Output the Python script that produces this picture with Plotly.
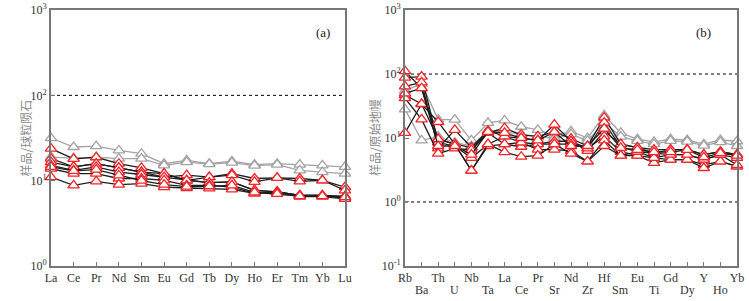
import plotly.graph_objects as go
from plotly.subplots import make_subplots

# ---------- Panel (a): chondrite-normalised REE ----------
ree = ["La", "Ce", "Pr", "Nd", "Sm", "Eu", "Gd", "Tb", "Dy", "Ho", "Er", "Tm", "Yb", "Lu"]

ree_grey = [
    [31.5, 24.8, 25.4, 22.6, 20.7, 15.8, 17.3, 15.8, 16.9, 15.4, 15.8, 15.4, 15.1, 14.5],
    [18.9, 18.4, 18.9, 18.1, 18.1, 15.1, 16.5, 15.6, 16.3, 15.0, 15.4, 13.2, 12.6, 12.1],
]
ree_black = [
    [23.7, 18.0, 18.8, 15.8, 14.1, 12.1, 10.1, 9.5, 9.7, 7.7, 7.4, 6.7, 6.7, 6.3],
    [18.1, 14.5, 15.8, 14.1, 12.6, 11.0, 11.6, 11.0, 12.1, 10.6, 10.8, 10.6, 10.1, 8.4],
    [16.5, 14.5, 15.8, 14.1, 12.6, 12.1, 10.1, 11.0, 11.6, 9.7, 10.8, 9.8, 10.1, 7.7],
    [15.1, 13.2, 14.5, 12.6, 11.8, 11.0, 10.1, 9.5, 9.7, 7.7, 7.4, 6.7, 6.7, 6.6],
    [13.8, 12.1, 12.1, 10.6, 10.6, 10.1, 8.8, 8.8, 8.4, 7.1, 7.4, 6.7, 6.7, 6.3],
    [11.0, 8.8, 9.8, 9.0, 9.25, 8.4, 8.2, 8.1, 7.9, 7.1, 7.2, 6.5, 6.5, 6.1],
    [14.5, 13.0, 13.5, 11.5, 10.0, 9.0, 8.5, 8.6, 8.8, 7.3, 7.0, 6.6, 6.6, 6.4],
]

# ---------- Panel (b): primitive-mantle-normalised spider ----------
spider = ["Rb", "Ba", "Th", "U", "Nb", "Ta", "La", "Ce", "Pr", "Sr", "Nd",
          "Zr", "Hf", "Sm", "Eu", "Ti", "Gd", "Dy", "Y", "Ho", "Yb"]

spider_grey = [
    [55, 70, 19.4, 19.4, 9.2, 17.2, 18.8, 15.0, 13.4, 11.0, 12.7, 10.0, 22.6, 12.0, 9.6, 8.7, 9.6, 9.3, 8.0, 9.3, 8.9],
    [28, 9.2, 10.5, 8.5, 7.5, 13.0, 12.5, 11.5, 10.5, 10.0, 11.5, 9.0, 17.5, 10.5, 9.0, 8.0, 9.0, 8.8, 7.6, 8.6, 7.5],
]
spider_black = [
    [111, 60, 9.6, 8.0, 7.1, 12.0, 14.3, 11.2, 10.6, 12.4, 9.8, 7.5, 20.9, 8.0, 7.1, 6.6, 6.6, 6.6, 5.5, 6.1, 5.5],
    [88, 91, 8.5, 7.5, 4.9, 8.0, 10.6, 10.0, 9.2, 16.2, 8.9, 6.9, 17.4, 7.3, 6.1, 5.8, 5.5, 5.5, 4.6, 5.5, 4.9],
    [64, 74, 6.9, 13.4, 7.1, 13.0, 10.6, 8.5, 8.0, 8.9, 8.9, 6.3, 12.7, 8.0, 7.1, 5.8, 6.6, 6.6, 5.5, 6.1, 5.5],
    [47, 34, 9.6, 8.0, 3.1, 7.5, 8.0, 7.3, 8.0, 8.0, 8.0, 6.9, 10.6, 6.1, 5.3, 4.9, 4.6, 4.6, 3.8, 4.3, 3.6],
    [42, 19.5, 5.7, 6.9, 6.5, 12.0, 8.0, 8.5, 6.6, 6.6, 6.3, 4.3, 9.2, 5.3, 5.3, 4.1, 4.6, 4.6, 3.4, 4.3, 3.6],
    [12, 34, 17.8, 8.0, 3.1, 8.0, 6.0, 5.1, 5.3, 8.0, 5.7, 4.3, 7.5, 5.3, 6.1, 4.9, 5.5, 5.5, 4.6, 5.5, 3.8],
    [50, 60, 7.5, 7.5, 5.5, 12.5, 12.0, 10.0, 9.2, 12.4, 7.5, 7.5, 14.0, 7.0, 6.5, 6.0, 6.0, 6.5, 5.0, 5.8, 5.3],
]

ytitle_a = "样品/球粒陨石"
ytitle_b = "样品/原始地幔"

RED = "#f0262b"
GREY = "#a3a3a3"
BLACK = "#1e1e1e"
AXIS = "#777777"
SERIF = "Liberation Serif, Times New Roman, serif"
CJK = "Noto Sans CJK SC, sans-serif"

W, H = 749, 301


def px(x):
    return x / W


def py(y):
    return (H - y) / H


fig = make_subplots(rows=1, cols=2)


def add_series(vals, cats, col, line_color, mark_color):
    fig.add_trace(go.Scatter(
        x=list(range(len(cats))), y=vals, mode="lines+markers",
        line=dict(color=line_color, width=1.3),
        marker=dict(symbol="triangle-up", size=10, color="white",
                    line=dict(color=mark_color, width=1.3)),
        cliponaxis=False, showlegend=False, hoverinfo="skip"), row=1, col=col)


for s in ree_grey:
    add_series(s, ree, 1, GREY, GREY)
for s in ree_black:
    add_series(s, ree, 1, BLACK, RED)
for s in spider_grey:
    add_series(s, spider, 2, GREY, GREY)
for s in spider_black:
    add_series(s, spider, 2, BLACK, RED)

ydom = [py(266), py(10)]
common_x = dict(showline=True, linecolor=AXIS, linewidth=1.6, mirror=True, automargin=False,
                ticks="inside", ticklen=4, tickcolor=AXIS, showgrid=False, tickangle=0,
                zeroline=False, ticklabeloverflow="allow",
                tickfont=dict(family=SERIF, size=12, color="#333"))
common_y = dict(type="log", showline=True, linecolor=AXIS, linewidth=1.6, mirror=True,
                automargin=False, ticks="inside", ticklen=4, tickcolor=AXIS, showgrid=False,
                zeroline=False, ticklabeloverflow="allow",
                tickfont=dict(family=SERIF, size=12, color="#333"))

fig.update_xaxes(common_x, row=1, col=1, domain=[px(51), px(345)], range=[0, 13],
                 tickvals=list(range(len(ree))), ticktext=ree)
fig.update_xaxes(common_x, row=1, col=2, domain=[px(405), px(737)], range=[0, 20],
                 tickvals=list(range(len(spider))),
                 ticktext=[c if i % 2 == 0 else "" for i, c in enumerate(spider)])
fig.update_yaxes(common_y, row=1, col=1, domain=ydom, range=[-0.0005, 3.0005],
                 tickvals=[1, 10, 100, 1000],
                 ticktext=["10<sup>0</sup>", "10<sup>1</sup>", "10<sup>2</sup>", "10<sup>3</sup>"])
fig.update_yaxes(common_y, row=1, col=2, domain=ydom, range=[-1.0005, 3.0005],
                 tickvals=[0.1, 1, 10, 100, 1000],
                 ticktext=["10<sup>-1</sup>", "10<sup>0</sup>", "10<sup>1</sup>", "10<sup>2</sup>", "10<sup>3</sup>"])

# second row of element names in panel (b)
for i, c in enumerate(spider):
    if i % 2 == 1:
        fig.add_annotation(text=c, xref="x2", yref="paper", x=i, y=py(290), yanchor="middle",
                           showarrow=False, font=dict(family=SERIF, size=12, color="#333"))

dot = dict(color="black", width=1, dash="dot")
fig.add_shape(type="line", xref="x domain", yref="y", x0=0, x1=1, y0=100, y1=100, line=dot, layer="below")
fig.add_shape(type="line", xref="x2 domain", yref="y2", x0=0, x1=1, y0=100, y1=100, line=dot, layer="below")
fig.add_shape(type="line", xref="x2 domain", yref="y2", x0=0, x1=1, y0=1, y1=1, line=dot, layer="below")

fig.add_annotation(text="(a)", xref="paper", yref="paper", x=px(323), y=py(23),
                   showarrow=False, font=dict(family=SERIF, size=13, color="#222"))
fig.add_annotation(text="(b)", xref="paper", yref="paper", x=px(713), y=py(23),
                   showarrow=False, font=dict(family=SERIF, size=13, color="#222"))
fig.add_annotation(text=ytitle_a, xref="paper", yref="paper", x=px(14), y=py(138),
                   textangle=-90, showarrow=False, font=dict(family=CJK, size=12, color="#8a8a8a"))
fig.add_annotation(text=ytitle_b, xref="paper", yref="paper", x=px(374), y=py(138),
                   textangle=-90, showarrow=False, font=dict(family=CJK, size=12, color="#8a8a8a"))

fig.update_layout(width=W, height=H, margin=dict(l=0, r=0, t=0, b=0),
                  paper_bgcolor="white", plot_bgcolor="white")

fig.write_html("out.html", config={"displayModeBar": False},
               post_script="document.body.style.margin='0';")
